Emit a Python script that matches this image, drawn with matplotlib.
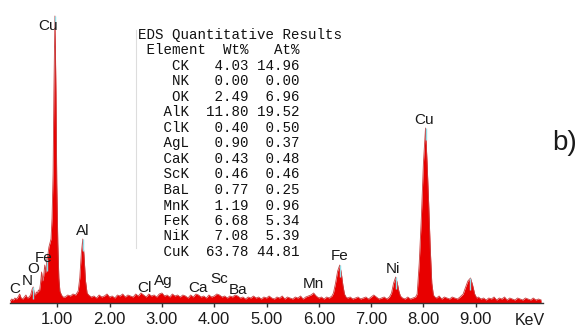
import numpy as np
import matplotlib
matplotlib.use("Agg")
import matplotlib.pyplot as plt
from matplotlib.transforms import blended_transform_factory

# EDS spectrum: (energy keV, counts)
low_energy = [(0.10, 2), (0.13, 4), (0.16, 3), (0.19, 5), (0.22, 4), (0.25, 6),
              (0.28, 9), (0.31, 5), (0.34, 4), (0.37, 6), (0.40, 8), (0.43, 5),
              (0.46, 6), (0.49, 8), (0.52, 14), (0.54, 16), (0.56, 9), (0.58, 8),
              (0.60, 11), (0.62, 10), (0.64, 13), (0.66, 12), (0.68, 20), (0.70, 31),
              (0.72, 22), (0.74, 27), (0.76, 38), (0.78, 30), (0.80, 44), (0.82, 48),
              (0.84, 56), (0.86, 60), (0.88, 64), (0.90, 85), (0.92, 130), (0.935, 210),
              (0.955, 287), (0.975, 210), (0.99, 120), (1.01, 60), (1.03, 25),
              (1.05, 12), (1.08, 8), (1.11, 6)]
al_peak = [(1.15, 6), (1.20, 8), (1.25, 7), (1.30, 9), (1.35, 8), (1.40, 12),
           (1.43, 25), (1.46, 50), (1.487, 64), (1.51, 48), (1.54, 22), (1.57, 10)]
mid_background = [(1.60, 8), (1.65, 6), (1.70, 7), (1.75, 5), (1.80, 8), (1.85, 6),
                  (1.90, 7), (1.95, 9), (2.00, 6), (2.05, 7), (2.10, 5), (2.15, 8),
                  (2.20, 7), (2.25, 9), (2.30, 6), (2.35, 8), (2.40, 7), (2.45, 6),
                  (2.50, 9), (2.55, 7), (2.60, 10), (2.65, 8), (2.70, 6), (2.75, 9),
                  (2.80, 7), (2.85, 8), (2.90, 6), (2.95, 9), (3.00, 10), (3.05, 7),
                  (3.10, 8), (3.15, 6), (3.20, 9), (3.25, 7), (3.30, 8), (3.35, 6),
                  (3.40, 8), (3.45, 7), (3.50, 5), (3.55, 8), (3.60, 6), (3.65, 9),
                  (3.70, 8), (3.75, 6), (3.80, 7), (3.85, 5), (3.90, 8), (3.95, 6),
                  (4.00, 7), (4.05, 9), (4.10, 8), (4.15, 6), (4.20, 7), (4.25, 5),
                  (4.30, 7), (4.35, 6), (4.40, 8), (4.45, 7), (4.50, 5), (4.55, 6),
                  (4.60, 4), (4.65, 6), (4.70, 5), (4.75, 7), (4.80, 5), (4.85, 6),
                  (4.90, 4), (4.95, 6), (5.00, 5), (5.05, 7), (5.10, 5), (5.15, 4),
                  (5.20, 6), (5.25, 5), (5.30, 7), (5.35, 4), (5.40, 6), (5.45, 5),
                  (5.50, 4), (5.55, 6), (5.60, 5), (5.65, 7), (5.70, 4), (5.75, 6),
                  (5.80, 7)]
fe_ni_region = [(5.85, 8), (5.90, 10), (5.95, 7), (6.00, 5), (6.05, 6), (6.10, 4),
                (6.15, 6), (6.20, 5), (6.25, 7), (6.28, 10), (6.32, 20), (6.36, 32),
                (6.40, 38), (6.43, 30), (6.46, 18), (6.49, 9), (6.52, 6), (6.55, 5),
                (6.60, 6), (6.65, 4), (6.70, 5), (6.75, 6), (6.80, 4), (6.85, 5),
                (6.90, 6), (6.95, 4), (7.00, 6), (7.05, 8), (7.10, 6), (7.15, 4),
                (7.20, 5), (7.25, 6), (7.30, 4), (7.35, 6), (7.39, 10), (7.43, 20),
                (7.47, 26), (7.50, 20), (7.53, 12), (7.56, 7), (7.60, 5)]
cu_k_region = [(7.65, 4), (7.70, 6), (7.75, 4), (7.80, 5), (7.85, 6), (7.88, 9),
               (7.92, 40), (7.96, 85), (8.00, 140), (8.04, 175), (8.07, 140),
               (8.10, 100), (8.13, 55), (8.16, 20), (8.19, 8), (8.22, 6), (8.25, 5),
               (8.30, 7), (8.35, 4), (8.40, 6), (8.45, 5), (8.50, 4), (8.55, 6),
               (8.60, 5), (8.65, 4), (8.70, 6), (8.76, 9), (8.80, 15), (8.85, 22),
               (8.90, 25), (8.94, 18), (8.98, 9), (9.02, 5)]
tail = [(9.05, 6), (9.10, 4), (9.15, 5), (9.20, 3), (9.25, 5), (9.30, 4), (9.35, 6),
        (9.40, 3), (9.45, 5), (9.50, 4), (9.55, 6), (9.60, 3), (9.65, 5), (9.70, 4),
        (9.75, 3), (9.80, 5), (9.85, 4), (9.90, 3), (9.95, 5), (10.00, 4),
        (10.05, 3), (10.10, 5), (10.15, 3), (10.20, 4), (10.25, 3)]

# element labels: text, energy, height
label_text = ["Cu", "C", "N", "O", "Fe", "Al", "Cl", "Ag", "Ca", "Sc", "Ba",
              "Mn", "Fe", "Ni", "Cu"]
label_energy = [0.82, 0.19, 0.42, 0.54, 0.73, 1.49, 2.66, 3.02, 3.69, 4.09, 4.46,
                5.89, 6.39, 7.42, 8.01]
label_height = [277, 14, 22, 34, 45, 72, 15, 22, 15, 24, 13, 19, 47, 34, 183]

# line markers at peak tops
marker_energy = [0.955, 1.487, 6.40, 7.47, 8.04, 8.90, 0.54, 0.80]
marker_top = [287, 64, 38, 26, 175, 25, 16, 44]

# quantitative results table
elements = ["CK", "NK", "OK", "AlK", "ClK", "AgL", "CaK", "ScK", "BaL", "MnK",
            "FeK", "NiK", "CuK"]
wt_pct = [4.03, 0.00, 2.49, 11.80, 0.40, 0.90, 0.43, 0.46, 0.77, 1.19, 6.68,
          7.08, 63.78]
at_pct = [14.96, 0.00, 6.96, 19.52, 0.50, 0.37, 0.48, 0.46, 0.25, 0.96, 5.34,
          5.39, 44.81]

tick_pos = [1, 2, 3, 4, 5, 6, 7, 8, 9]
tick_labels = ["1.00", "2.00", "3.00", "4.00", "5.00", "6.00", "7.00", "8.00", "9.00"]

spectrum = low_energy + al_peak + mid_background + fe_ni_region + cu_k_region + tail
energy = np.array([p[0] for p in spectrum])
counts = np.array([p[1] for p in spectrum])

W, H = 585, 329
fig = plt.figure(figsize=(W / 100, H / 100), dpi=100)
ax = fig.add_axes([10.2 / W, 26 / H, 533 / W, 300 / H])
ax.set_xlim(0.1, 10.29)
ax.set_ylim(0, 300)

ax.fill_between(energy, 0, counts, color="#e80000", lw=0)
ax.plot(energy, counts, color="#c84040", lw=0.6)
ax.vlines(marker_energy, np.array(marker_top) - 12, marker_top, color="#8fdde6", lw=1)

for t, e, h in zip(label_text, label_energy, label_height):
    ax.text(e, h, t, ha="center", va="center", fontsize=11,
            family="Liberation Sans", color="#1a1a1a")

for s in ["top", "left", "right"]:
    ax.spines[s].set_visible(False)
ax.spines["bottom"].set_color("#333333")
ax.spines["bottom"].set_linewidth(1.0)
ax.set_yticks([])
ax.set_xticks(tick_pos)
ax.set_xticklabels(tick_labels, family="Liberation Sans", fontsize=12, color="#1a1a1a")
ax.tick_params(axis="x", direction="out", length=3, width=1, color="#333333", pad=3.5)

trans = blended_transform_factory(ax.transData, ax.transAxes)
ax.text(10.04, -0.057, "KeV", transform=trans, ha="center", va="center",
        fontsize=11.5, family="Liberation Sans", color="#1a1a1a")

# results table
lines = ["EDS Quantitative Results", " Element  Wt%   At%"]
for el, w, a in zip(elements, wt_pct, at_pct):
    lines.append(f"{el:>6}{w:>7.2f}{a:>6.2f}")
for i, line in enumerate(lines):
    fig.text(138 / W, 1 - (35 + 15.5 * i) / H, line, ha="left", va="center",
             family="Liberation Mono", fontsize=10.2, color="#111111")
fig.add_artist(plt.Line2D([136 / W, 136 / W], [1 - 30 / H, 1 - 248 / H],
                          color="#dddddd", lw=0.8))

fig.text(565 / W, 1 - 143 / H, "b)", ha="center", va="center", fontsize=20,
         family="Liberation Sans", color="#1a1a1a")

fig.savefig("out.png", dpi=100)
